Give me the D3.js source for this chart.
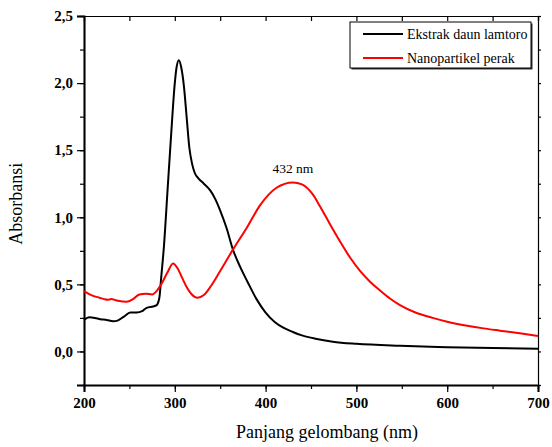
<!DOCTYPE html>
<html>
<head>
    <meta charset="utf-8">
    <title>Absorbansi</title>
    <script src="https://d3js.org/d3.v7.min.js"></script>
    <style>
        body { margin: 0; background: #fff; }
    </style>
</head>
<body>
<div id="chart"></div>
<script type="text/javascript">
    // data: [wavelength nm, absorbance]
    let ekstrak = [
        [200, 0.235], [206, 0.255], [212, 0.25], [218, 0.24], [225, 0.235], [232, 0.225],
        [237, 0.23], [244, 0.26], [251, 0.29], [258, 0.29], [264, 0.30], [269, 0.325],
        [276, 0.335], [280, 0.345], [283, 0.40], [285, 0.55], [288, 0.78], [292, 1.20],
        [296, 1.62], [300, 2.00], [302, 2.12], [304.5, 2.17], [307, 2.12], [310, 1.98],
        [313, 1.75], [316, 1.52], [319, 1.40], [322, 1.33], [326, 1.29], [332, 1.25],
        [339, 1.20], [345, 1.13], [350, 1.05], [357, 0.92], [364, 0.76], [372, 0.63],
        [380, 0.52], [390, 0.39], [400, 0.29], [410, 0.22], [420, 0.175], [430, 0.145],
        [440, 0.12], [455, 0.095], [474, 0.073], [500, 0.057], [548, 0.042], [600, 0.032],
        [650, 0.025], [700, 0.02]
    ];
    let nanopartikel = [
        [200, 0.45], [208, 0.42], [217, 0.40], [222, 0.39], [226, 0.385], [230, 0.39],
        [236, 0.38], [247, 0.37], [254, 0.39], [261, 0.425], [268, 0.43], [275, 0.425],
        [280, 0.45], [285, 0.50], [292, 0.59], [298, 0.655], [303, 0.62], [308, 0.55],
        [313, 0.48], [318, 0.43], [325, 0.40], [332, 0.42], [340, 0.49], [350, 0.60],
        [365, 0.77], [380, 0.93], [394, 1.09], [412, 1.22], [430, 1.26], [440, 1.245],
        [452, 1.17], [460, 1.08], [470, 0.96], [482, 0.82], [493, 0.70], [504, 0.60],
        [515, 0.52], [526, 0.455], [537, 0.395], [548, 0.345], [565, 0.29], [584, 0.25],
        [600, 0.222], [622, 0.192], [640, 0.172], [658, 0.155], [680, 0.135], [700, 0.115]
    ];
    let seriesNames = ["Ekstrak daun lamtoro", "Nanopartikel perak"];
    let seriesColors = ["#000000", "#ff0000"];
    let xTicks = [200, 300, 400, 500, 600, 700];
    let yTicks = [0, 0.5, 1.0, 1.5, 2.0, 2.5];
    let peakLabel = "432 nm";

    let serif = "'Liberation Serif'";

    let width = 552, height = 447;
    let margin = {top: 16, right: 14, bottom: 62, left: 84};
    let w = width - margin.left - margin.right;
    let h = height - margin.top - margin.bottom;

    let svg = d3.select("#chart")
        .append("svg")
            .attr("width", width)
            .attr("height", height)
        .append("g")
            .attr("transform", "translate(" + margin.left + "," + margin.top + ")");

    let xScale = d3.scaleLinear().domain([200, 700]).range([0, w]);
    let yScale = d3.scaleLinear().domain([-0.25, 2.5]).range([h, 0]);

    let fmt = d => d3.format(".1f")(d).replace(".", ",");

    // minor ticks (no labels)
    let xMinor = d3.range(200, 701, 50);
    let yMinor = d3.range(-0.25, 2.51, 0.25);

    svg.append("g")
        .attr("transform", "translate(0," + h + ")")
        .call(d3.axisBottom(xScale).tickValues(xMinor).tickSize(4).tickFormat(""));
    svg.append("g")
        .call(d3.axisLeft(yScale).tickValues(yMinor).tickSize(4).tickFormat(""));
    svg.append("g")
        .call(d3.axisBottom(xScale).tickValues(xMinor).tickSize(5).tickFormat(""));
    svg.append("g")
        .attr("transform", "translate(" + w + ",0)")
        .call(d3.axisRight(yScale).tickValues(yMinor).tickSize(3).tickFormat(""));

    // major axes
    let xAxis = svg.append("g")
        .attr("transform", "translate(0," + h + ")")
        .call(d3.axisBottom(xScale).tickValues(xTicks).tickSize(7).tickPadding(5).tickFormat(d3.format("d")));
    let yAxis = svg.append("g")
        .call(d3.axisLeft(yScale).tickValues(yTicks).tickSize(7).tickPadding(4).tickFormat(fmt));

    svg.selectAll("g").attr("font-family", serif);
    svg.selectAll(".domain").attr("stroke-width", 1.2);
    xAxis.select(".domain").attr("stroke-width", 2);
    yAxis.select(".domain").attr("stroke-width", 2);
    svg.selectAll(".tick line").attr("stroke-width", 1.2);
    svg.selectAll(".tick text")
        .style("font-family", serif)
        .attr("font-weight", "bold")
        .attr("font-size", "15px")
        .attr("fill", "#000");

    // curves
    let line = d3.line()
        .x(d => xScale(d[0]))
        .y(d => yScale(d[1]))
        .curve(d3.curveMonotoneX);

    [ekstrak, nanopartikel].forEach(function (data, i) {
        svg.append("path")
            .datum(data)
            .attr("fill", "none")
            .attr("stroke", seriesColors[i])
            .attr("stroke-width", 2)
            .attr("d", line);
    });

    // peak annotation
    svg.append("text")
        .attr("x", xScale(430))
        .attr("y", yScale(1.26) - 9)
        .attr("text-anchor", "middle")
        .style("font-family", serif)
        .attr("font-size", "13.5px")
        .text(peakLabel);

    // legend
    let lg = svg.append("g").attr("transform", "translate(266,6)");
    lg.append("rect")
        .attr("x", 1.5).attr("y", 1.5)
        .attr("width", 181).attr("height", 46)
        .attr("fill", "#333");
    lg.append("rect")
        .attr("width", 181).attr("height", 46)
        .attr("fill", "#fff")
        .attr("stroke", "#000")
        .attr("stroke-width", 1);
    seriesNames.forEach(function (name, i) {
        let y = 12 + i * 24;
        lg.append("line")
            .attr("x1", 13).attr("x2", 53)
            .attr("y1", y).attr("y2", y)
            .attr("stroke", seriesColors[i])
            .attr("stroke-width", 2);
        lg.append("text")
            .attr("x", 57).attr("y", y + 4.5)
            .style("font-family", serif)
            .attr("font-size", "14px")
            .text(name);
    });

    // axis titles
    svg.append("text")
        .attr("x", w / 2 + 16)
        .attr("y", h + 53)
        .attr("text-anchor", "middle")
        .style("font-family", serif)
        .attr("font-size", "18px")
        .text("Panjang gelombang (nm)");
    svg.append("text")
        .attr("transform", "translate(-62," + (yScale(1.1)) + ") rotate(-90)")
        .attr("text-anchor", "middle")
        .style("font-family", serif)
        .attr("font-size", "18px")
        .text("Absorbansi");
</script>
</body>
</html>
